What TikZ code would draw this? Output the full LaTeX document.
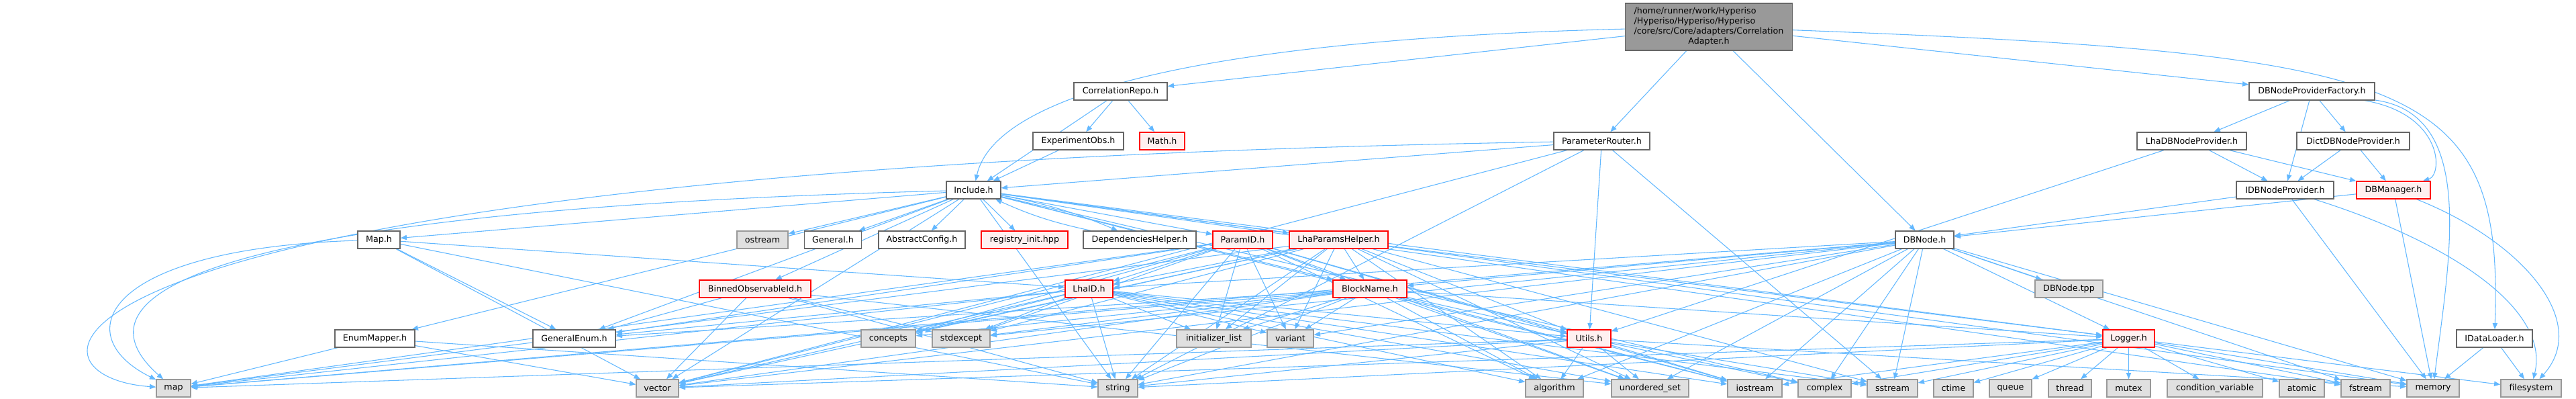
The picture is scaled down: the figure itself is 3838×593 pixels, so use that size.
\documentclass[tikz,border=0pt]{standalone}
\usepackage{fontspec}
\setmainfont{DejaVu Sans}
\usetikzlibrary{arrows.meta}
\definecolor{edgeblue}{HTML}{63B8FF}
\definecolor{wborder}{HTML}{666666}
\definecolor{gfill}{HTML}{E0E0E0}
\definecolor{gborder}{HTML}{999999}
\definecolor{rfill}{HTML}{FFF0F0}
\definecolor{rborder}{HTML}{FF0000}
\definecolor{rootfill}{HTML}{999999}
\pgfdeclarelayer{bg}
\pgfsetlayers{bg,main}
\newcommand\nd[6]{\node[#1,minimum width=#5*0.75pt] (#2) at (#3,#4) {#6};}
\tikzset{
  basebox/.style={rectangle,inner sep=0pt,minimum height=19.5pt,line width=1pt,
    font=\fontsize{9.5}{11.25}\selectfont},
  wbox/.style={basebox,draw=wborder,fill=white},
  gbox/.style={basebox,draw=gborder,fill=gfill},
  rbox/.style={basebox,draw=rborder,fill=rfill},
  rootbox/.style={basebox,draw=wborder,fill=rootfill},
  dep/.style={draw=edgeblue,line width=0.8pt,-{Triangle[length=7pt,width=5.5pt]}}
}
\begin{document}
\begin{tikzpicture}[x=0.75pt,y=-0.75pt]
\useasboundingbox (0,0) rectangle (3838,593);
% root
\node[rootbox,minimum width=249*0.75pt,minimum height=70*0.75pt] (root) at (2546,40)
  {\begin{tabular}{@{}l@{}}/home/runner/work/Hyperiso\\/Hyperiso/Hyperiso/Hyperiso\\/core/src/Core/adapters/Correlation\\\multicolumn{1}{@{}c@{}}{Adapter.h}\end{tabular}};
% row 1
\nd{wbox}{corrRepo}{1669.5}{136}{139}{CorrelationRepo.h}
\nd{wbox}{factory}{3444.5}{136}{187}{DBNodeProviderFactory.h}
% row 2
\nd{wbox}{expObs}{1606.5}{210}{135}{ExperimentObs.h}
\nd{rbox}{math}{1731.5}{210}{67}{Math.h}
\nd{wbox}{router}{2386.5}{210}{143}{ParameterRouter.h}
\nd{wbox}{lhaProv}{3265.5}{210}{163}{LhaDBNodeProvider.h}
\nd{wbox}{dictProv}{3506}{210}{168}{DictDBNodeProvider.h}
% row 3
\nd{wbox}{include}{1450.5}{283}{81}{Include.h}
\nd{wbox}{idbProv}{3404.5}{283}{145}{IDBNodeProvider.h}
\nd{rbox}{dbman}{3566}{283}{110}{DBManager.h}
% row 4
\nd{wbox}{maph}{564.5}{357}{63}{Map.h}
\nd{gbox}{ostream}{1136}{357}{76}{ostream}
\nd{wbox}{general}{1241}{357}{85}{General.h}
\nd{wbox}{abstract}{1373.5}{357}{129}{AbstractConfig.h}
\nd{rbox}{registry}{1526.5}{357}{129}{registry\_init.hpp}
\nd{wbox}{deps}{1698}{357}{168}{DependenciesHelper.h}
\nd{rbox}{paramid}{1851.5}{357}{89}{ParamID.h}
\nd{rbox}{lhaparams}{1994.5}{357}{147}{LhaParamsHelper.h}
\nd{wbox}{dbnode}{2867.5}{357}{87}{DBNode.h}
% row 5
\nd{rbox}{binned}{1125}{430}{166}{BinnedObservableId.h}
\nd{rbox}{lhaid}{1622.5}{430}{71}{LhaID.h}
\nd{rbox}{blockname}{2041}{430}{110}{BlockName.h}
\nd{gbox}{dbtpp}{3082.5}{430}{101}{DBNode.tpp}
% row 6
\nd{wbox}{enummapper}{558.5}{504}{119}{EnumMapper.h}
\nd{wbox}{genenum}{855.5}{504}{123}{GeneralEnum.h}
\nd{gbox}{concepts}{1323.5}{504}{81}{concepts}
\nd{gbox}{stdexcept}{1432}{504}{86}{stdexcept}
\nd{gbox}{initlist}{1808.5}{504}{111}{initializer\_list}
\nd{gbox}{variant}{1922.5}{504}{69}{variant}
\nd{rbox}{utils}{2367.5}{504}{65}{Utils.h}
\nd{rbox}{logger}{3171.5}{504}{77}{Logger.h}
\nd{wbox}{idataloader}{3716.5}{504}{113}{IDataLoader.h}
% row 7
\nd{gbox}{map}{258.5}{578}{51}{map}
\nd{gbox}{vector}{979.5}{578}{63}{vector}
\nd{gbox}{string}{1665.5}{578}{59}{string}
\nd{gbox}{algorithm}{2316}{578}{86}{algorithm}
\nd{gbox}{unorderedset}{2458.5}{578}{115}{unordered\_set}
\nd{gbox}{iostream}{2614.5}{578}{81}{iostream}
\nd{gbox}{complex}{2718.5}{578}{79}{complex}
\nd{gbox}{sstream}{2819.5}{578}{75}{sstream}
\nd{gbox}{ctime}{2910.5}{578}{59}{ctime}
\nd{gbox}{queue}{2995.5}{578}{63}{queue}
\nd{gbox}{thread}{3084}{578}{64}{thread}
\nd{gbox}{mutex}{3171.5}{578}{65}{mutex}
\nd{gbox}{condvar}{3300}{578}{142}{condition\_variable}
\nd{gbox}{atomic}{3429.5}{578}{67}{atomic}
\nd{gbox}{fstream}{3524.5}{578}{73}{fstream}
\nd{gbox}{memory}{3625}{578}{78}{memory}
\nd{gbox}{filesystem}{3771}{578}{90}{filesystem}

\begin{pgfonlayer}{bg}
% curved connectors
\draw[dep] (root) .. controls (1750,60) and (1480,150) .. (include);
\draw[dep] (root) .. controls (3600,80) and (3730,120) .. (idataloader);
\draw[dep] (router) .. controls (0,250) and (0,560) .. (map);
\draw[dep] (include) .. controls (400,310) and (80,420) .. (map);
\draw[dep] (maph) .. controls (150,370) and (100,500) .. (map);
\draw[dep] (include) to[bend left=6] (deps);
\draw[dep] (deps) to[bend left=6] (include);
\draw[dep] (factory) .. controls (3640,170) and (3640,260) .. (dbman);
\draw[dep] (factory) .. controls (3690,170) and (3650,380) .. (memory);
\draw[dep] (idbProv) .. controls (3650,360) and (3800,460) .. (filesystem);
\draw[dep] (dbman) .. controls (3760,360) and (3860,480) .. (filesystem);
% straight connectors
\foreach \s/\t in {
  root/corrRepo, root/router, root/dbnode, root/factory,
  corrRepo/include, corrRepo/expObs, corrRepo/math, expObs/include,
  router/include, router/vector, router/string, router/utils, router/sstream,
  include/maph, include/ostream, include/general, include/abstract, include/registry,
  include/paramid, include/lhaparams, include/blockname, include/binned, include/genenum,
  include/enummapper, include/vector, include/string, include/iostream, include/complex,
  include/memory, include/logger, include/fstream,
  maph/vector, maph/string, maph/genenum, maph/lhaid,
  enummapper/map, enummapper/vector, enummapper/string,
  binned/genenum, binned/vector, binned/string, binned/stdexcept, binned/unorderedset,
  paramid/lhaid, paramid/blockname, paramid/genenum, paramid/concepts, paramid/stdexcept,
  paramid/initlist, paramid/variant, paramid/string, paramid/vector, paramid/map,
  paramid/iostream, paramid/algorithm, paramid/unorderedset, paramid/utils,
  lhaparams/blockname, lhaparams/lhaid, lhaparams/variant, lhaparams/initlist,
  lhaparams/string, lhaparams/vector, lhaparams/map, lhaparams/utils, lhaparams/logger,
  lhaparams/algorithm, lhaparams/unorderedset, lhaparams/sstream, lhaparams/stdexcept,
  lhaparams/concepts,
  lhaid/genenum, lhaid/concepts, lhaid/stdexcept, lhaid/initlist, lhaid/variant,
  lhaid/string, lhaid/vector, lhaid/map, lhaid/iostream, lhaid/algorithm,
  lhaid/unorderedset, lhaid/sstream, lhaid/utils,
  blockname/genenum, blockname/concepts, blockname/stdexcept, blockname/variant,
  blockname/initlist, blockname/string, blockname/vector, blockname/map,
  blockname/algorithm, blockname/unorderedset, blockname/utils, blockname/iostream,
  blockname/logger,
  utils/algorithm, utils/unorderedset, utils/iostream, utils/complex, utils/sstream,
  utils/vector, utils/string, utils/map, utils/memory,
  logger/iostream, logger/complex, logger/sstream, logger/ctime, logger/queue,
  logger/thread, logger/mutex, logger/condvar, logger/atomic, logger/fstream,
  logger/memory, logger/filesystem, logger/string, logger/vector,
  dbnode/dbtpp, dbnode/logger, dbnode/memory, dbnode/iostream, dbnode/complex,
  dbnode/sstream, dbnode/string, dbnode/vector, dbnode/map, dbnode/variant,
  dbnode/unorderedset, dbnode/blockname, dbnode/lhaid, dbnode/stdexcept,
  dbnode/fstream, dbnode/algorithm,
  idbProv/dbnode, idbProv/memory,
  dbman/dbnode, dbman/memory,
  lhaProv/idbProv, lhaProv/dbman, lhaProv/utils,
  dictProv/idbProv, dictProv/dbman,
  factory/lhaProv, factory/idbProv, factory/dictProv,
  idataloader/memory, idataloader/filesystem}
  \draw[dep] (\s) -- (\t);
\end{pgfonlayer}
\end{tikzpicture}
\end{document}
